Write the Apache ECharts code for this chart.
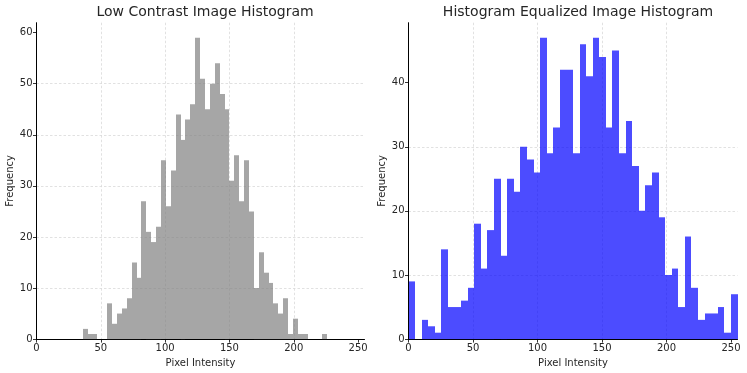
<!DOCTYPE html>
<html>
<head>
<meta charset="utf-8">
<script src="https://cdn.jsdelivr.net/npm/echarts@6/dist/echarts.min.js"></script>
<style>html,body{margin:0;padding:0;background:#fff}#c{width:747px;height:373px}</style>
</head>
<body>
<div id="c"></div>
<script>
// Low contrast histogram: 50 bins starting at 36, width 3.8
const lowBinStart = 36;
const lowBinWidth = 3.8;
const lowCounts = [2,1,1,0,0,7,3,5,6,8,15,12,27,21,19,22,35,26,33,44,39,43,46,59,51,45,50,54,48,45,31,36,27,35,25,10,17,13,11,7,5,8,1,4,1,1,0,0,0,1];
// Equalized histogram: 50 bins starting at 0, width 5.1
const eqBinStart = 0;
const eqBinWidth = 5.1;
const eqCounts = [9,0,3,2,1,14,5,5,6,8,18,11,17,25,13,25,23,30,28,26,47,29,33,42,42,29,46,41,47,44,33,45,29,34,27,20,24,26,19,10,11,5,16,8,3,4,4,5,1,7];
const xTicks = [0,50,100,150,200,250];
const lowYTicks = [0,10,20,30,40,50,60];
const eqYTicks = [0,10,20,30,40];
const titles = ['Low Contrast Image Histogram','Histogram Equalized Image Histogram'];

function bins(start, width, counts) {
  return counts.map((c, i) => [start + i * width, start + (i + 1) * width, c]);
}
const txt = '#262626';
const font = 'DejaVu Sans';
const gridLine = {show: true, showMaxLine: false, showMinLine: false, lineStyle: {color: '#d9d9d9', type: [2.5, 2], width: 0.8}};
function xAx(idx) {
  return {
    type: 'value', gridIndex: idx, min: 0, max: 255, interval: 50,
    name: 'Pixel Intensity', nameLocation: 'middle', nameGap: 15,
    nameTextStyle: {color: txt, fontFamily: font, fontSize: 10},
    axisLine: {show: true, onZero: false, lineStyle: {color: '#000', width: 1}},
    axisTick: {show: true, inside: false, length: 3.5, lineStyle: {color: '#000', width: 0.8}, customValues: xTicks},
    axisLabel: {color: txt, fontFamily: font, fontSize: 10, margin: 4, customValues: xTicks},
    splitLine: gridLine
  };
}
function yAx(idx, max, ticks) {
  return {
    type: 'value', gridIndex: idx, min: 0, max: max, interval: 10,
    name: 'Frequency', nameLocation: 'middle', nameGap: 20,
    nameTextStyle: {color: txt, fontFamily: font, fontSize: 10},
    axisLine: {show: true, lineStyle: {color: '#000', width: 1}},
    axisTick: {show: true, inside: false, length: 3.5, lineStyle: {color: '#000', width: 0.8}, customValues: ticks},
    axisLabel: {color: txt, fontFamily: font, fontSize: 10, margin: 4, customValues: ticks},
    splitLine: gridLine
  };
}
function histSeries(idx, data, color) {
  return {
    type: 'custom', xAxisIndex: idx, yAxisIndex: idx,
    data: data,
    encode: {x: [0, 1], y: 2},
    renderItem: function (params, api) {
      const p0 = api.coord([api.value(0), api.value(2)]);
      const p1 = api.coord([api.value(1), 0]);
      const x0 = Math.round(p0[0]), x1 = Math.round(p1[0]);
      return {type: 'rect', shape: {x: x0, y: p0[1], width: x1 - x0, height: p1[1] - p0[1]}, style: {fill: color}};
    },
    silent: true, animation: false
  };
}
const chart = echarts.init(document.getElementById('c'), null, {renderer: 'canvas'});
chart.setOption({
  animation: false,
  backgroundColor: '#fff',
  title: [
    {text: titles[0], left: 200, top: 0, textAlign: 'center', textStyle: {color: txt, fontFamily: font, fontSize: 14, fontWeight: 'normal'}},
    {text: titles[1], left: 573, top: 0, textAlign: 'center', textStyle: {color: txt, fontFamily: font, fontSize: 14, fontWeight: 'normal'}}
  ],
  grid: [
    {left: 36.5, top: 22.7, width: 328, height: 316.6, containLabel: false},
    {left: 408.5, top: 22.7, width: 329, height: 316.6, containLabel: false}
  ],
  xAxis: [xAx(0), xAx(1)],
  yAxis: [yAx(0, 61.95, lowYTicks), yAx(1, 49.35, eqYTicks)],
  series: [
    histSeries(0, bins(lowBinStart, lowBinWidth, lowCounts), 'rgba(128,128,128,0.7)'),
    histSeries(1, bins(eqBinStart, eqBinWidth, eqCounts), 'rgba(0,0,255,0.7)')
  ]
});
</script>
</body>
</html>
